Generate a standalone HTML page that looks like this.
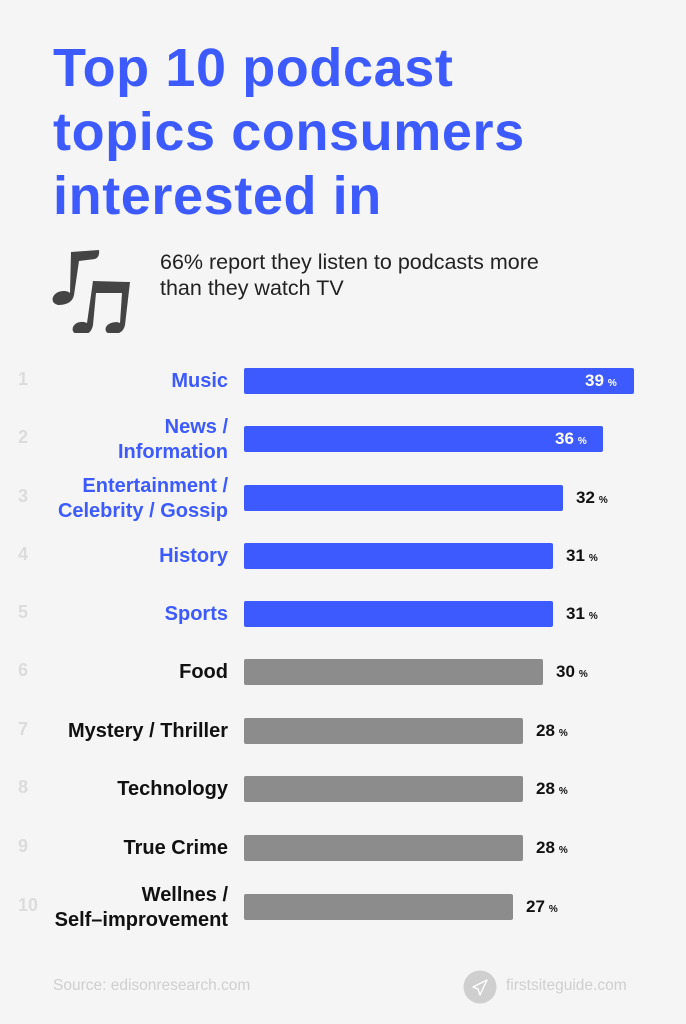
<!DOCTYPE html>
<html><head><meta charset="utf-8"><style>
body{margin:0;width:686px;height:1024px;background:#f5f5f5;font-family:"Liberation Sans",sans-serif;position:relative;overflow:hidden}
.t{position:absolute;left:53px;top:36px;font-size:54px;font-weight:bold;color:#3d5afe;line-height:64px;letter-spacing:0.6px}
.sub{position:absolute;left:160px;top:249px;font-size:21.5px;line-height:26px;color:#222}
.row{position:absolute;left:0;width:686px;height:26px}
.n{position:absolute;left:18px;top:1px;font-size:18px;font-weight:bold;color:#dcdcdc}
.l{position:absolute;right:458px;font-size:20px;font-weight:bold;text-align:right;line-height:25px;white-space:nowrap}
.b{position:absolute;left:244px;top:0;height:26px;border-radius:2px}
.v{position:absolute;top:3px;font-size:17px;font-weight:bold}
.v small{font-size:10px;margin-left:4px}
.f{position:absolute;top:977px;font-size:15.5px;color:#cfcfcf}
</style></head><body>
<div class="t">Top 10 podcast<br>topics consumers<br>interested in</div>
<svg style="position:absolute;left:50px;top:245px" width="84" height="88" viewBox="0 0 84 88">
<g fill="#444">
<path d="M21 7 L49 5 Q50 12 45 14 L29 16 L24 50 Q22 60 8 60 Q1 58 3 52 Q6 46 14 46 Q18 46 20 48 Z"/>
<path d="M43 36 L80 37 L75 80 Q73 90 61 89 Q54 88 56 82 Q59 77 67 77 L70 78 L72 48 L46 48 L43 80 Q41 91 29 90 Q21 88 23 82 Q26 76 34 77 L37 78 Z"/>
</g></svg>
<div class="sub">66% report they listen to podcasts more<br>than they watch TV</div>

<div class="row" style="top:368px"><span class="n">1</span><span class="l" style="top:1px;color:#3d5afe">Music</span><div class="b" style="width:390px;background:#3d5afe"></div><span class="v" style="left:585px;color:#fff">39<small>%</small></span></div>
<div class="row" style="top:426px"><span class="n">2</span><span class="l" style="top:-11px;color:#3d5afe">News /<br>Information</span><div class="b" style="width:359px;background:#3d5afe"></div><span class="v" style="left:555px;color:#fff">36<small>%</small></span></div>
<div class="row" style="top:485px"><span class="n">3</span><span class="l" style="top:-11px;color:#3d5afe">Entertainment /<br>Celebrity / Gossip</span><div class="b" style="width:319px;background:#3d5afe"></div><span class="v" style="left:576px;color:#111">32<small>%</small></span></div>
<div class="row" style="top:543px"><span class="n">4</span><span class="l" style="top:1px;color:#3d5afe">History</span><div class="b" style="width:309px;background:#3d5afe"></div><span class="v" style="left:566px;color:#111">31<small>%</small></span></div>
<div class="row" style="top:601px"><span class="n">5</span><span class="l" style="top:1px;color:#3d5afe">Sports</span><div class="b" style="width:309px;background:#3d5afe"></div><span class="v" style="left:566px;color:#111">31<small>%</small></span></div>
<div class="row" style="top:659px"><span class="n">6</span><span class="l" style="top:1px;color:#111">Food</span><div class="b" style="width:299px;background:#8c8c8c"></div><span class="v" style="left:556px;color:#111">30<small>%</small></span></div>
<div class="row" style="top:718px"><span class="n">7</span><span class="l" style="top:1px;color:#111">Mystery / Thriller</span><div class="b" style="width:279px;background:#8c8c8c"></div><span class="v" style="left:536px;color:#111">28<small>%</small></span></div>
<div class="row" style="top:776px"><span class="n">8</span><span class="l" style="top:1px;color:#111">Technology</span><div class="b" style="width:279px;background:#8c8c8c"></div><span class="v" style="left:536px;color:#111">28<small>%</small></span></div>
<div class="row" style="top:835px"><span class="n">9</span><span class="l" style="top:1px;color:#111">True Crime</span><div class="b" style="width:279px;background:#8c8c8c"></div><span class="v" style="left:536px;color:#111">28<small>%</small></span></div>
<div class="row" style="top:894px"><span class="n">10</span><span class="l" style="top:-11px;color:#111">Wellnes /<br>Self–improvement</span><div class="b" style="width:269px;background:#8c8c8c"></div><span class="v" style="left:526px;color:#111">27<small>%</small></span></div>

<div class="f" style="left:53px">Source: edisonresearch.com</div>
<svg style="position:absolute;left:463px;top:970px" width="34" height="34"><circle cx="17" cy="17" r="16.5" fill="#cfcfcf"/><path d="M24 10 L10 17 L15 19 L17 25 Z" fill="none" stroke="#fff" stroke-width="1.4" stroke-linejoin="round"/></svg>
<div class="f" style="left:506px">firstsiteguide.com</div>
</body></html>
